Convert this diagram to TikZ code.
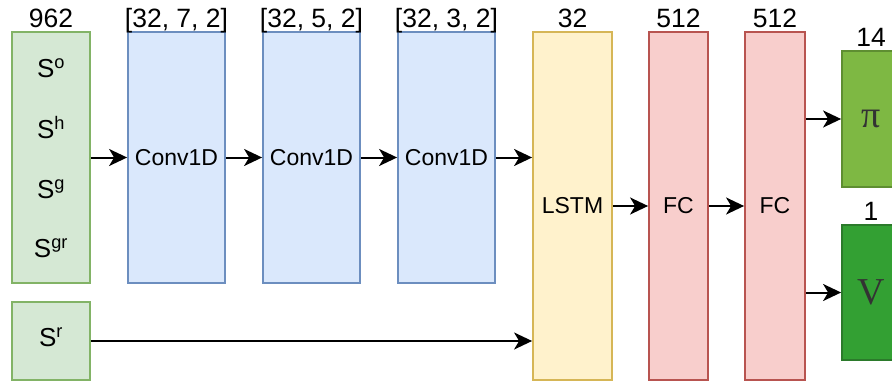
\documentclass[tikz,border=0pt]{standalone}
\usepackage{fontspec}
\setmainfont{Liberation Sans}
\newfontfamily\serifpi{Liberation Serif}
\usetikzlibrary{arrows.meta}
\definecolor{gfill}{HTML}{D5E8D4}\definecolor{gdraw}{HTML}{82B366}
\definecolor{bfill}{HTML}{DAE8FC}\definecolor{bdraw}{HTML}{6C8EBF}
\definecolor{yfill}{HTML}{FFF2CC}\definecolor{ydraw}{HTML}{D6B656}
\definecolor{rfill}{HTML}{F8CECC}\definecolor{rdraw}{HTML}{B85450}
\definecolor{pfill}{HTML}{7EB843}\definecolor{pdraw}{HTML}{5E8E31}
\definecolor{vfill}{HTML}{33A033}\definecolor{vdraw}{HTML}{2B7A2B}
\definecolor{dtext}{HTML}{333333}
\tikzset{
  layer/.style={draw, line width=1.8pt, inner sep=0pt, font=\fontsize{23}{27}\selectfont},
  inbox/.style={layer, fill=gfill, draw=gdraw},
  convbox/.style={layer, fill=bfill, draw=bdraw},
  lstmbox/.style={layer, fill=yfill, draw=ydraw},
  fcbox/.style={layer, fill=rfill, draw=rdraw},
  outbox/.style={layer, font=\serifpi\fontsize{38}{40}\selectfont, text=dtext},
  dimlabel/.style={anchor=base, inner sep=0pt, font=\fontsize{26.5}{30}\selectfont},
  intext/.style={inner sep=0pt, font=\fontsize{26}{30}\selectfont},
  conn/.style={line width=2pt, -{Stealth[length=18pt, width=17pt, inset=5pt]}},
}
\begin{document}
\begin{tikzpicture}[x=1pt, y=-1pt]
\useasboundingbox (0,0) rectangle (892,383);
\begin{scope}
\clip (0,0) rectangle (892,383);
% boxes
\node[inbox, minimum width=78pt, minimum height=251pt] (in) at (51,157.5) {};
\node[inbox, minimum width=78pt, minimum height=78pt] (sr) at (51,341) {};
\node[convbox, minimum width=97pt, minimum height=251pt] (c1) at (176.5,157.5) {Conv1D};
\node[convbox, minimum width=97pt, minimum height=251pt] (c2) at (311.5,157.5) {Conv1D};
\node[convbox, minimum width=97pt, minimum height=251pt] (c3) at (446.5,157.5) {Conv1D};
\node[lstmbox, minimum width=79pt, minimum height=348pt] (lstm) at (572.5,206) {LSTM};
\node[fcbox, minimum width=59pt, minimum height=348pt] (fc1) at (678.5,206) {FC};
\node[fcbox, minimum width=60pt, minimum height=348pt] (fc2) at (775,206) {FC};
\node[outbox, fill=pfill, draw=pdraw, minimum width=58pt, minimum height=136pt] (pi) at (871,119) {π};
\node[outbox, fill=vfill, draw=vdraw, minimum width=58pt, minimum height=135pt] (v) at (871,292.5) {V};
\end{scope}
% texts in input boxes
\node[intext] (so) at (51,68) {S\textsuperscript{o}};
\node[intext] (sh) at (51,128) {S\textsuperscript{h}};
\node[intext] (sg) at (51,189) {S\textsuperscript{g}};
\node[intext] (sgr) at (51,248) {S\textsuperscript{gr}};
\node[intext] (srt) at (51,337) {S\textsuperscript{r}};
% dimension labels
\node[dimlabel] (l0) at (51,27) {962};
\node[dimlabel] (l1) at (176.5,27) {[32, 7, 2]};
\node[dimlabel] (l2) at (311.5,27) {[32, 5, 2]};
\node[dimlabel] (l3) at (446.5,27) {[32, 3, 2]};
\node[dimlabel] (l4) at (572.5,27) {32};
\node[dimlabel] (l5) at (678.5,27) {512};
\node[dimlabel] (l6) at (775,27) {512};
\node[dimlabel] (l7) at (871,46) {14};
\node[dimlabel] (l8) at (871,220) {1};
% connectors
\draw[conn] (in.east) -- (c1.west);
\draw[conn] (c1.east) -- (c2.west);
\draw[conn] (c2.east) -- (c3.west);
\draw[conn] (c3.east) -- (c3.east -| lstm.west);
\draw[conn] (sr.east) -- (sr.east -| lstm.west);
\draw[conn] (lstm.east) -- (fc1.west);
\draw[conn] (fc1.east) -- (fc2.west);
\draw[conn] (fc2.east |- pi.west) -- (pi.west);
\draw[conn] (fc2.east |- v.west) -- (v.west);
\end{tikzpicture}
\end{document}
